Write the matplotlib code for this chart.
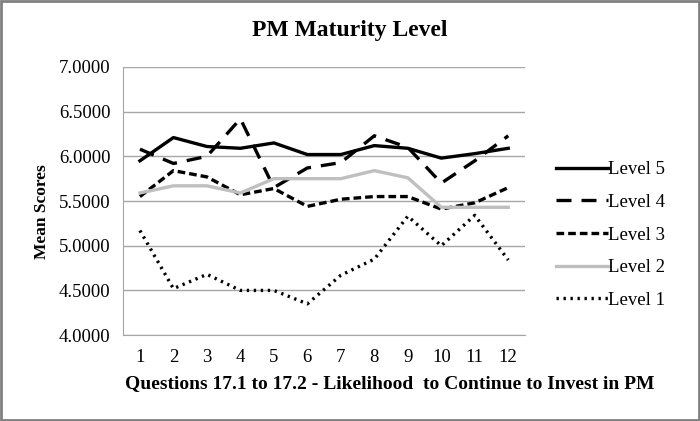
import matplotlib
matplotlib.use('Agg')
import matplotlib.pyplot as plt
from matplotlib.patches import Rectangle

plt.rcParams['font.family'] = ['Liberation Serif', 'DejaVu Serif']

preguntas = list(range(1, 13))
nivel5 = [5.95, 6.21, 6.11, 6.09, 6.15, 6.02, 6.02, 6.12, 6.09, 5.98, 6.03, 6.09]
nivel4 = [6.08, 5.92, 6.00, 6.42, 5.65, 5.87, 5.93, 6.23, 6.10, 5.70, 5.95, 6.23]
nivel3 = [5.55, 5.84, 5.77, 5.57, 5.64, 5.44, 5.52, 5.55, 5.55, 5.41, 5.48, 5.65]
nivel2 = [5.59, 5.67, 5.67, 5.59, 5.75, 5.75, 5.75, 5.84, 5.76, 5.43, 5.43, 5.43]
nivel1 = [5.17, 4.52, 4.68, 4.50, 4.50, 4.35, 4.67, 4.85, 5.33, 5.00, 5.34, 4.84]

fig = plt.figure(figsize=(7, 4.21), dpi=100)
ax = fig.add_axes([0.176, 0.204, 0.574, 0.637])

lw = 2.4
ax.plot(preguntas, nivel5, color='black', lw=lw, label='Level 5')
ax.plot(preguntas, nivel4, color='black', lw=lw, dashes=(4.5, 3), label='Level 4')
ax.plot(preguntas, nivel3, color='black', lw=lw, dashes=(2.3, 1.2), label='Level 3')
ax.plot(preguntas, nivel2, color='#bfbfbf', lw=lw, label='Level 2')
ax.plot(preguntas, nivel1, color='black', lw=lw, dashes=(0.7, 1.4), label='Level 1')

ax.set_xlim(0.5, 12.5)
ax.set_ylim(4.0, 7.0)
ax.set_yticks([4.0, 4.5, 5.0, 5.5, 6.0, 6.5, 7.0])
ax.set_yticklabels(['%.4f' % v for v in [4.0, 4.5, 5.0, 5.5, 6.0, 6.5, 7.0]])
ax.set_xticks(preguntas)
ax.tick_params(length=0, labelsize=13.5, pad=9)
ax.tick_params(axis='x', pad=10)
ax.yaxis.grid(True, color='#a6a6a6', lw=1)
ax.set_axisbelow(True)
for s in ['top', 'right']:
    ax.spines[s].set_visible(False)
ax.spines['left'].set_color('#a6a6a6')
ax.spines['bottom'].set_color('#a6a6a6')

ax.set_ylabel('Mean Scores', fontsize=12.5, fontweight='bold')
ax.yaxis.set_label_coords(-0.183, 0.46)
fig.text(0.557, 0.088, 'Questions 17.1 to 17.2 - Likelihood  to Continue to Invest in PM',
         ha='center', va='center', fontsize=14, fontweight='bold')
fig.text(0.5, 0.928, 'PM Maturity Level', ha='center', va='center',
         fontsize=17, fontweight='bold')

ax.legend(loc='center left', bbox_to_anchor=(1.035, 0.373), frameon=False,
          fontsize=13.5, handlelength=2.8, labelspacing=0.83, handletextpad=0.0)

fig.patches.append(Rectangle((0.002, 0.003), 0.996, 0.994, transform=fig.transFigure,
                             fill=False, edgecolor='#808080', lw=2))

fig.savefig('out.png', dpi=100)
